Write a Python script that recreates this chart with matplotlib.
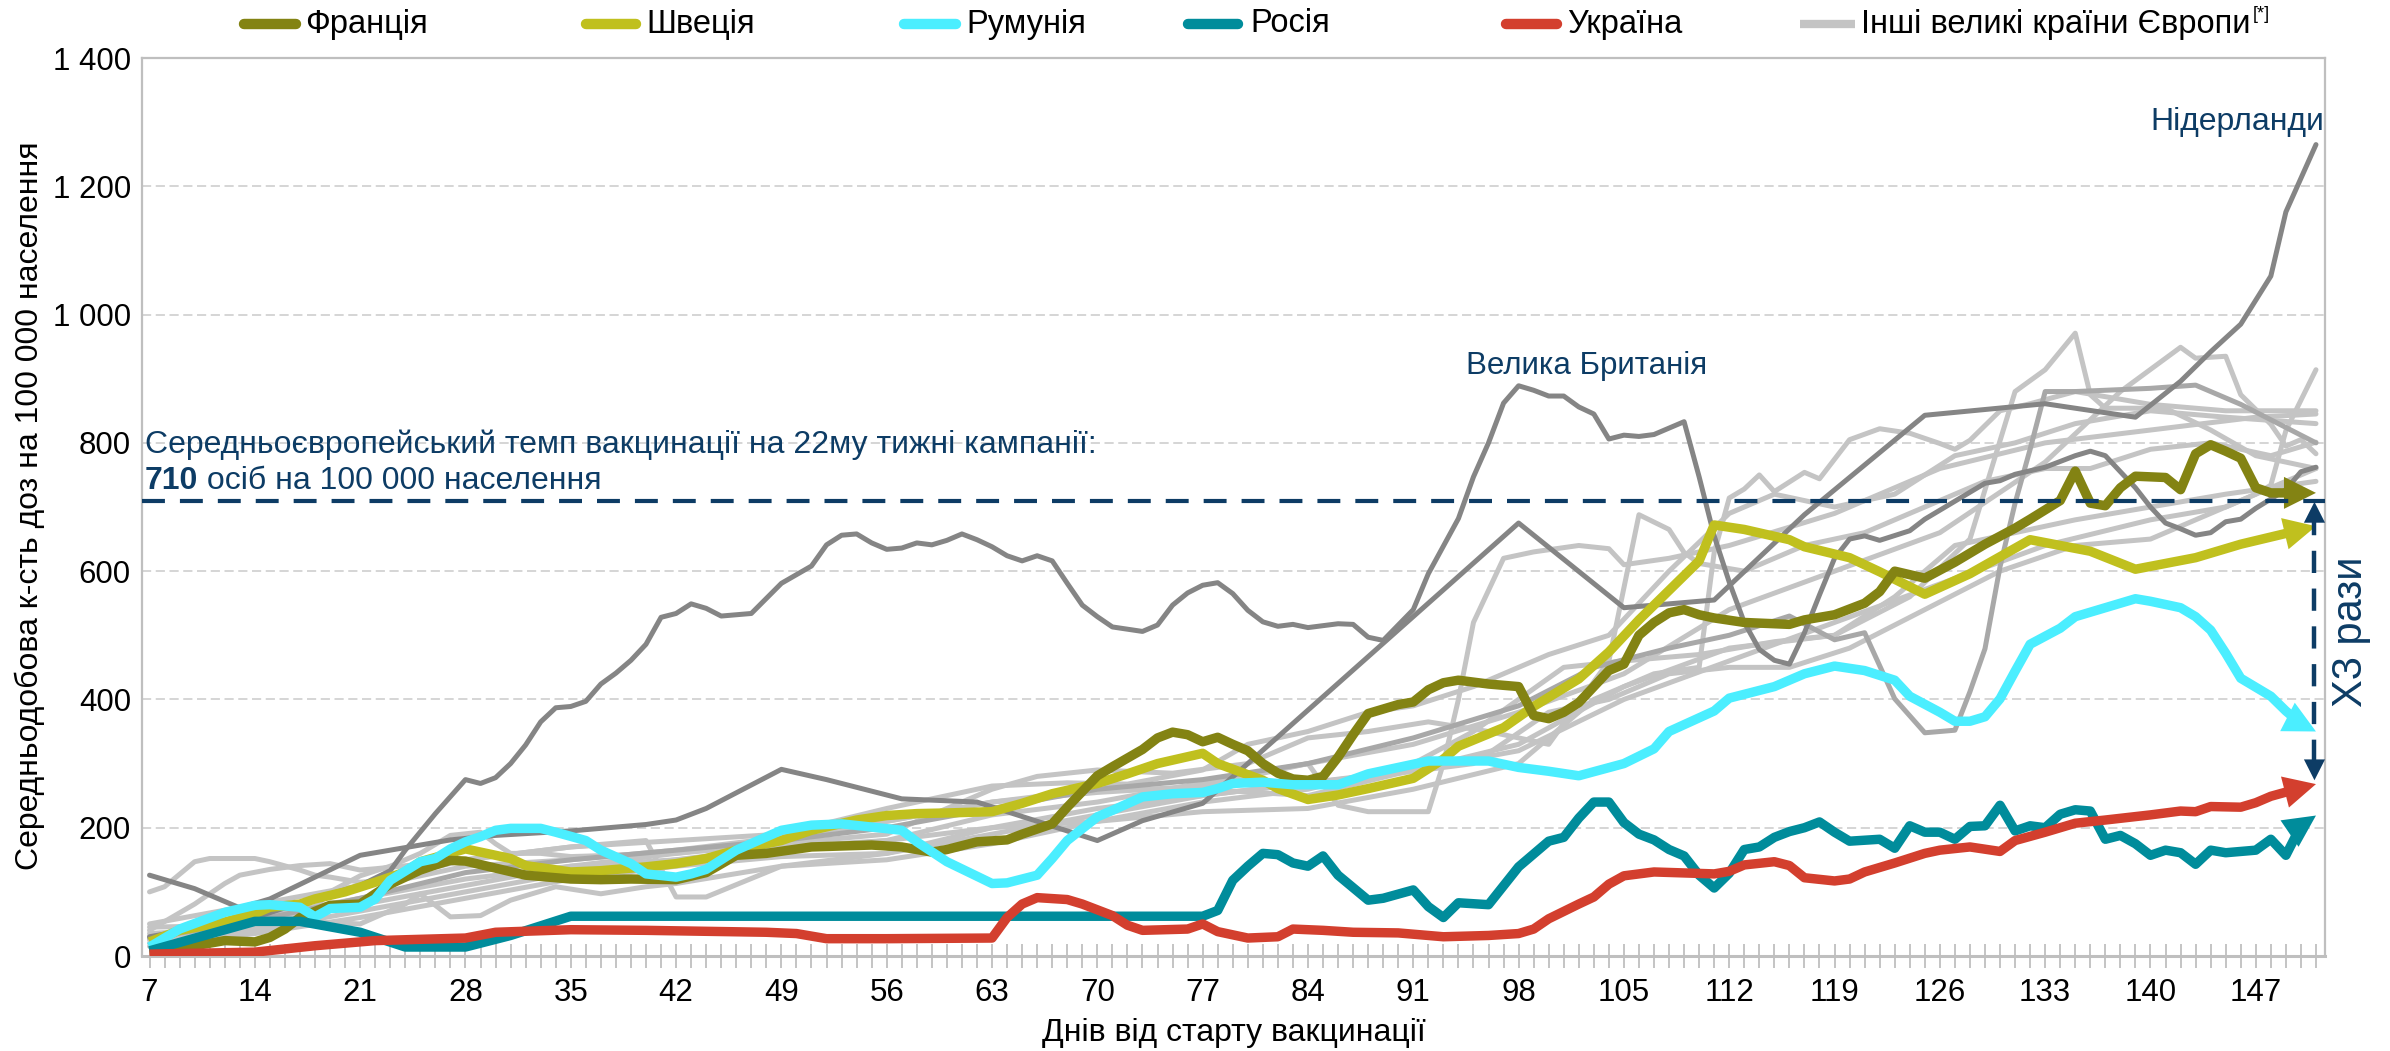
import numpy as np
import matplotlib
matplotlib.use("Agg")
import matplotlib.pyplot as plt
from matplotlib.lines import Line2D
from matplotlib.patches import Polygon

plt.rcParams['font.family'] = ['Liberation Sans', 'DejaVu Sans']

# ---- data: (day since start of vaccination, doses per 100k, 7-day average) ----
france = [(7, 6), (10, 16), (12, 24), (14, 22), (15, 29), (16, 42), (17, 60), (19, 79), (21, 81), (22, 97),
          (23, 112), (25, 134), (26, 142), (27, 149), (28, 148), (30, 137), (32, 126), (35, 120), (37, 119),
          (39, 120), (42, 119), (44, 130), (46, 157), (48, 160), (51, 170), (55, 173), (57, 170), (59, 162),
          (60, 166), (62, 178), (64, 181), (65, 190), (67, 206), (68, 232), (70, 281), (71, 295), (73, 322),
          (74, 340), (75, 349), (76, 345), (77, 334), (78, 341), (79, 330), (80, 320), (81, 300), (82, 285),
          (83, 276), (84, 274), (85, 280), (86, 310), (87, 345), (88, 378), (90, 392), (91, 396), (92, 415),
          (93, 426), (94, 430), (96, 424), (98, 420), (99, 375), (100, 370), (101, 380), (102, 395), (103, 420),
          (104, 445), (105, 455), (106, 500), (107, 520), (108, 535), (109, 540), (110, 532), (111, 527),
          (113, 520), (116, 517), (117, 524), (119, 532), (121, 550), (122, 568), (123, 600), (125, 589),
          (127, 614), (129, 642), (131, 667), (132, 681), (134, 710), (135, 756), (136, 706), (137, 702),
          (138, 730), (139, 748), (141, 746), (142, 727), (143, 783), (144, 797), (145, 787), (146, 776),
          (147, 730), (148, 722), (151, 722)]

sweden = [(7, 22), (9, 40), (12, 53), (14, 66), (15, 76), (17, 81), (18, 89), (20, 100), (22, 115), (24, 131),
          (25, 147), (28, 167), (29, 162), (31, 152), (32, 141), (35, 131), (37, 133), (40, 139), (42, 144),
          (44, 152), (46, 165), (49, 180), (51, 196), (54, 212), (56, 219), (58, 222), (60, 223), (63, 225),
          (65, 238), (67, 253), (70, 269), (72, 284), (74, 300), (77, 316), (78, 300), (81, 274), (82, 261),
          (84, 244), (86, 251), (88, 261), (91, 277), (93, 307), (94, 327), (97, 356), (99, 389), (102, 432),
          (104, 474), (106, 524), (108, 570), (110, 616), (111, 672), (113, 665), (116, 649), (117, 638),
          (120, 621), (122, 599), (125, 564), (128, 596), (132, 649), (136, 631), (139, 603), (143, 621),
          (146, 642), (151, 670)]

romania = [(7, 14), (9, 42), (12, 68), (14, 79), (15, 80), (17, 76), (18, 61), (19, 74), (21, 76), (22, 89),
           (23, 118), (25, 147), (26, 152), (27, 167), (28, 178), (29, 186), (30, 196), (31, 199), (33, 199),
           (34, 193), (36, 180), (37, 165), (39, 144), (40, 128), (42, 123), (43, 128), (44, 135), (46, 165),
           (49, 196), (51, 204), (53, 206), (55, 201), (57, 196), (58, 178), (60, 147), (63, 113), (64, 114),
           (66, 126), (67, 152), (68, 180), (70, 217), (71, 227), (73, 248), (75, 253), (77, 255), (78, 261),
           (79, 269), (81, 271), (83, 267), (86, 267), (88, 284), (92, 304), (96, 304), (98, 294), (100, 288),
           (102, 281), (105, 300), (107, 323), (108, 350), (111, 382), (112, 402), (115, 420), (117, 440),
           (119, 452), (121, 445), (123, 430), (124, 405), (126, 380), (127, 366), (128, 366), (129, 373),
           (130, 401), (131, 444), (132, 486), (134, 511), (135, 529), (136, 536), (138, 550), (139, 557),
           (140, 553), (142, 543), (143, 529), (144, 508), (145, 472), (146, 433), (148, 405), (149, 382),
           (150, 362), (151, 350)]

russia = [(7, 8), (14, 54), (17, 54), (21, 37), (24, 14), (28, 14), (31, 32), (35, 62), (77, 62), (78, 71),
          (79, 118), (80, 140), (81, 160), (82, 158), (83, 145), (84, 140), (85, 156), (86, 126), (88, 87),
          (89, 90), (91, 103), (92, 77), (93, 60), (94, 83), (96, 80), (98, 139), (100, 179), (101, 185),
          (102, 215), (103, 240), (104, 240), (105, 208), (106, 190), (107, 181), (108, 166), (109, 156),
          (110, 126), (111, 106), (112, 129), (113, 166), (114, 170), (115, 185), (116, 194), (117, 200),
          (118, 209), (119, 193), (120, 179), (122, 182), (123, 168), (124, 203), (125, 193), (126, 193),
          (127, 182), (128, 202), (129, 203), (130, 235), (131, 195), (132, 203), (133, 200), (134, 221),
          (135, 228), (136, 226), (137, 182), (138, 188), (139, 175), (140, 157), (141, 165), (142, 161),
          (143, 143), (144, 165), (145, 161), (147, 165), (148, 182), (149, 157), (150, 203), (151, 219)]

ukraine = [(7, 3), (14, 6), (18, 16), (22, 24), (28, 28), (30, 37), (35, 41), (40, 40), (48, 37), (50, 35),
           (52, 27), (56, 27), (63, 28), (64, 60), (65, 81), (66, 91), (68, 88), (69, 81), (71, 63), (72, 48),
           (73, 40), (76, 42), (77, 50), (78, 38), (80, 28), (82, 30), (83, 42), (85, 40), (87, 37), (90, 36),
           (93, 30), (96, 32), (98, 35), (99, 42), (100, 58), (102, 81), (103, 92), (104, 112), (105, 125),
           (107, 131), (111, 128), (112, 132), (113, 142), (115, 147), (116, 141), (117, 122), (119, 117),
           (120, 120), (121, 131), (123, 145), (125, 160), (126, 165), (128, 170), (130, 163), (131, 180),
           (133, 193), (135, 207), (137, 212), (140, 220), (142, 226), (143, 225), (144, 233), (146, 232),
           (147, 239), (148, 249), (150, 262), (151, 268)]

uk = [(7, 30), (14, 60), (18, 90), (21, 110), (23, 133), (24, 165), (26, 222), (28, 275), (29, 269), (30, 278),
      (31, 300), (32, 329), (33, 365), (34, 387), (35, 389), (36, 397), (37, 424), (38, 441), (39, 461),
      (40, 486), (41, 528), (42, 534), (43, 549), (44, 542), (45, 530), (47, 534), (49, 581), (51, 608),
      (52, 641), (53, 656), (54, 658), (55, 644), (56, 634), (57, 636), (58, 644), (59, 641), (60, 648),
      (61, 658), (62, 649), (63, 638), (64, 624), (65, 616), (66, 624), (67, 616), (68, 581), (69, 547),
      (70, 529), (71, 513), (73, 506), (74, 516), (75, 547), (76, 566), (77, 578), (78, 582), (79, 565),
      (80, 539), (81, 521), (82, 514), (83, 517), (84, 512), (86, 518), (87, 517), (88, 497), (89, 492),
      (91, 540), (92, 596), (94, 682), (95, 747), (96, 800), (97, 862), (98, 889), (99, 882), (100, 873),
      (101, 873), (102, 856), (103, 845), (104, 806), (105, 812), (106, 810), (107, 813), (108, 823),
      (109, 833), (110, 747), (111, 655), (112, 583), (113, 520), (114, 478), (115, 461), (116, 455),
      (117, 504), (118, 563), (119, 620), (120, 650), (121, 655), (122, 648), (124, 663), (125, 681),
      (127, 709), (129, 737), (130, 741), (131, 751), (133, 762), (135, 780), (136, 787), (137, 780),
      (138, 755), (139, 730), (140, 700), (141, 675), (142, 666), (143, 656), (144, 660), (145, 677),
      (146, 681), (147, 698), (149, 727), (150, 755), (151, 762)]

netherlands = [(7, 126), (10, 105), (13, 75), (15, 89), (18, 123), (21, 157), (24, 169), (27, 181), (30, 188),
               (35, 195), (40, 205), (42, 212), (44, 230), (49, 291), (52, 275), (57, 245), (62, 240), (70, 180),
               (73, 211), (77, 238), (80, 300), (98, 675), (105, 543), (111, 555), (117, 688), (125, 843),
               (133, 861), (139, 840), (142, 896), (144, 942), (146, 985), (148, 1060), (149, 1160), (151, 1265)]

# the remaining large European countries (light / medium grey)
mid_grey_1 = [(7, 28), (14, 55), (21, 90), (28, 130), (35, 150), (42, 165), (49, 180), (56, 200), (63, 230),
              (70, 260), (77, 275), (84, 300), (91, 340), (98, 390), (103, 450), (108, 480), (112, 500),
              (116, 530), (119, 493), (121, 504), (123, 401), (125, 348), (127, 352), (128, 412), (129, 479),
              (130, 607), (131, 706), (132, 790), (133, 880), (135, 880), (140, 885), (143, 890), (146, 860),
              (151, 800)]
other_1 = [(7, 100), (8, 108), (10, 147), (11, 152), (14, 152), (15, 147), (17, 134), (18, 126), (19, 123),
           (21, 115), (24, 120), (28, 140), (35, 150), (42, 165), (49, 185), (56, 210), (63, 240), (70, 255),
           (77, 265), (84, 300), (86, 235), (88, 225), (92, 225), (93, 300), (94, 400), (95, 520), (97, 620),
           (99, 630), (102, 640), (104, 635), (105, 610), (108, 620), (112, 640), (119, 690), (126, 760),
           (133, 800), (140, 820), (147, 840), (151, 845)]
other_2 = [(7, 40), (10, 81), (12, 113), (13, 126), (15, 135), (17, 141), (19, 144), (21, 134), (22, 136),
           (28, 150), (35, 170), (42, 180), (49, 190), (56, 230), (60, 250), (63, 265), (68, 270), (72, 268),
           (77, 290), (80, 330), (84, 350), (88, 380), (91, 390), (95, 420), (100, 470), (104, 500), (108, 600),
           (112, 690), (115, 720), (119, 700), (123, 720), (127, 780), (131, 800), (135, 830), (140, 850),
           (145, 840), (151, 830)]
other_3 = [(7, 45), (14, 48), (17, 52), (19, 100), (21, 125), (23, 140), (25, 160), (27, 188), (29, 193),
           (30, 175), (31, 160), (33, 160), (35, 155), (42, 160), (49, 175), (56, 190), (63, 260), (66, 280),
           (70, 290), (75, 285), (80, 300), (84, 340), (88, 350), (92, 365), (96, 350), (100, 330), (104, 460),
           (106, 688), (108, 665), (109, 629), (110, 612), (113, 600), (117, 640), (121, 660), (125, 700),
           (129, 740), (133, 760), (136, 760), (140, 790), (144, 800), (148, 780), (151, 801)]
other_4 = [(7, 35), (14, 45), (18, 53), (21, 50), (24, 81), (25, 97), (27, 61), (29, 63), (31, 87), (34, 108),
           (37, 97), (40, 108), (42, 113), (49, 140), (56, 150), (63, 175), (70, 210), (77, 240), (84, 260),
           (91, 300), (95, 350), (98, 400), (101, 450), (105, 460), (110, 470), (115, 490), (119, 500),
           (123, 560), (127, 640), (131, 660), (135, 680), (140, 700), (145, 720), (151, 740)]
other_5 = [(7, 50), (14, 80), (21, 110), (28, 150), (35, 170), (40, 180), (42, 92), (44, 92), (49, 140),
           (56, 160), (63, 200), (70, 230), (77, 250), (84, 270), (90, 285), (95, 300), (100, 380), (104, 400),
           (108, 440), (112, 450), (116, 450), (120, 480), (125, 540), (130, 600), (135, 640), (140, 650),
           (145, 700), (151, 760)]
other_6 = [(7, 30), (14, 60), (21, 90), (28, 120), (35, 140), (42, 150), (49, 170), (56, 180), (63, 200),
           (70, 210), (77, 225), (84, 230), (91, 260), (98, 300), (103, 400), (107, 440), (110, 450), (111, 629),
           (112, 714), (113, 728), (114, 750), (115, 724), (117, 754), (118, 744), (120, 805), (122, 822),
           (124, 815), (126, 799), (127, 790), (128, 804), (130, 850), (132, 861), (135, 880), (140, 860),
           (145, 850), (151, 850)]
other_7 = [(7, 25), (14, 50), (21, 80), (28, 110), (35, 140), (42, 160), (49, 180), (56, 210), (63, 240),
           (70, 260), (77, 260), (84, 250), (91, 290), (98, 330), (105, 420), (112, 480), (119, 500), (124, 560),
           (128, 650), (131, 880), (133, 914), (135, 971), (136, 875), (137, 854), (141, 854), (144, 820),
           (147, 780), (151, 760)]
other_8 = [(7, 20), (14, 40), (21, 70), (28, 100), (35, 130), (42, 150), (49, 165), (56, 180), (63, 220),
           (70, 240), (77, 270), (84, 300), (91, 330), (98, 380), (105, 440), (112, 540), (119, 600), (126, 660),
           (133, 770), (138, 880), (142, 949), (143, 932), (145, 935), (146, 875), (148, 829), (149, 795),
           (150, 805), (151, 783)]
other_9 = [(7, 15), (14, 35), (21, 60), (28, 90), (35, 120), (42, 140), (49, 155), (56, 160), (63, 190),
           (70, 220), (77, 250), (84, 270), (91, 290), (98, 320), (105, 400), (112, 460), (119, 520), (126, 580),
           (133, 640), (140, 680), (145, 700), (147, 720), (148, 734), (149, 819), (151, 914)]

light_grey_series = [other_1, other_2, other_3, other_4, other_5, other_6, other_7, other_8, other_9]

y_ticks = [0, 200, 400, 600, 800, 1000, 1200, 1400]
y_tick_labels = ['0', '200', '400', '600', '800', '1 000', '1 200', '1 400']
x_ticks = list(range(7, 148, 7))
eu_average = 710

NAVY = '#0D3C65'
C_FR = '#838313'
C_SE = '#C0C01E'
C_RO = '#4BEEFF'
C_RU = '#008C9B'
C_UA = '#D33F2E'
DARK = '#858585'
MID = '#A8A8A8'
LIGHT = '#C4C4C4'
AXIS = '#BFBFBF'

W, H = 2390, 1051
fig = plt.figure(figsize=(W / 100, H / 100), dpi=100)
ax = fig.add_axes([142 / W, 1 - 956 / H, (2325 - 142) / W, (956 - 58) / H])
ax.set_xlim(6.5, 151.6)
ax.set_ylim(0, 1400)

ax.set_yticks(y_ticks)
ax.set_yticklabels(y_tick_labels)
ax.yaxis.grid(True, color='#CACACA', ls=(0, (6, 3)), lw=1.1)
ax.set_axisbelow(True)
ax.tick_params(axis='y', length=0, pad=8, labelsize=22.5)
ax.set_xticks(x_ticks)
ax.set_xticks(range(7, 152), minor=True)
ax.tick_params(axis='x', which='both', direction='inout', length=17, width=1.3, color=AXIS)
ax.tick_params(axis='x', which='major', pad=7, labelsize=22.5)
for s in ax.spines.values():
    s.set_color(AXIS)
    s.set_linewidth(1.6)
ax.spines['bottom'].set_linewidth(2.2)


def unpack(series):
    d, v = zip(*series)
    return np.array(d, float), np.array(v, float)


for ser, col in [(s, LIGHT) for s in light_grey_series] + [(mid_grey_1, MID), (netherlands, DARK), (uk, DARK)]:
    d, v = unpack(ser)
    ax.plot(d, v, color=col, lw=3.6, solid_joinstyle='round', solid_capstyle='round', zorder=2)

fig.canvas.draw()


def arrow_line(series, color, lw=6.8, head=32, z=3):
    d, v = unpack(series)
    p1 = ax.transData.transform((d[-2], v[-2]))
    p2 = ax.transData.transform((d[-1], v[-1]))
    u = (p2 - p1) / np.hypot(*(p2 - p1))
    n = np.array([-u[1], u[0]])
    base = p2 - u * head
    inv = ax.transData.inverted()
    tri = inv.transform([p2, base + n * head / 2, base - n * head / 2])
    stop = inv.transform(base + u * 4)
    ax.plot(np.append(d[:-1], stop[0]), np.append(v[:-1], stop[1]), color=color, lw=lw,
            solid_joinstyle='round', solid_capstyle='butt', zorder=z)
    ax.add_patch(Polygon(tri, closed=True, color=color, lw=0, zorder=z))


arrow_line(sweden, C_SE, z=3)
arrow_line(france, C_FR, z=4)
arrow_line(romania, C_RO, z=5)
arrow_line(russia, C_RU, z=6)
arrow_line(ukraine, C_UA, z=7)

# average line and x3 arrow
ax.axhline(eu_average, color=NAVY, lw=3.0, ls=(0, (5.5, 3.6)), zorder=8)
xa = 150.9
ax.plot([xa, xa], [eu_average - 20, ukraine[-1][1] + 20], color=NAVY, lw=3.2, ls=(0, (5, 3.5)), zorder=8)
ax.annotate('', xy=(xa, eu_average - 2), xytext=(xa, eu_average - 30),
            arrowprops=dict(arrowstyle='-|>,head_length=0.75,head_width=0.38', color=NAVY, lw=0,
                            mutation_scale=20, shrinkA=0, shrinkB=0), zorder=9)
ax.annotate('', xy=(xa, ukraine[-1][1] + 6), xytext=(xa, ukraine[-1][1] + 34),
            arrowprops=dict(arrowstyle='-|>,head_length=0.75,head_width=0.38', color=NAVY, lw=0,
                            mutation_scale=20, shrinkA=0, shrinkB=0), zorder=9)
ax.text(153.3, 505, 'Х3 рази', rotation=90, ha='center', va='center', color=NAVY, fontsize=30, clip_on=False)

# annotations
ax.text(6.7, 797, 'Середньоєвропейський темп вакцинації на 22му тижні кампанії:', color=NAVY,
        fontsize=23, ha='left', va='center', zorder=10)
t710 = ax.text(6.7, 740, '710', color=NAVY, fontsize=23, fontweight='bold', ha='left', va='center', zorder=10)
r = fig.canvas.get_renderer()
bb = t710.get_window_extent(r)
x_after = ax.transData.inverted().transform((bb.x1, 0))[0]
ax.text(x_after, 740, ' осіб на 100 000 населення', color=NAVY, fontsize=23, ha='left', va='center', zorder=10)
ax.text(145.8, 1300, 'Нідерланди', color=NAVY, fontsize=23, ha='center', va='center')
ax.text(102.5, 920, 'Велика Британія', color=NAVY, fontsize=22.5, ha='center', va='center')

# axis titles
fig.text(30 / W, 1 - 506 / H, 'Середньодобова к-сть доз на 100 000 населення', rotation=90,
         ha='center', va='center', fontsize=23)
fig.text(1234 / W, 1 - 1033 / H, 'Днів від старту вакцинації', ha='center', va='center', fontsize=23)

# legend across the top
legend_items = [('Франція', C_FR, 244, 296, 305), ('Швеція', C_SE, 586, 636, 646),
                ('Румунія', C_RO, 904, 956, 966), ('Росія', C_RU, 1188, 1238, 1250),
                ('Україна', C_UA, 1506, 1557, 1567)]
ly = 1 - 24 / H
for name, col, x0, x1, xt in legend_items:
    fig.add_artist(Line2D([x0 / W, x1 / W], [ly, ly], transform=fig.transFigure, color=col, lw=7.5,
                          solid_capstyle='round'))
    fig.text(xt / W, ly, name, ha='left', va='center', fontsize=23.5)
fig.add_artist(Line2D([1800 / W, 1855 / W], [ly, ly], transform=fig.transFigure, color=LIGHT, lw=6,
                      solid_capstyle='butt'))
tl = fig.text(1861 / W, ly, 'Інші великі країни Європи', ha='left', va='center', fontsize=23.5)
bb = tl.get_window_extent(r)
fig.text(bb.x1 / W + 0.001, ly + 0.009, '[*]', ha='left', va='center', fontsize=13)

fig.savefig('out.png', dpi=100)
